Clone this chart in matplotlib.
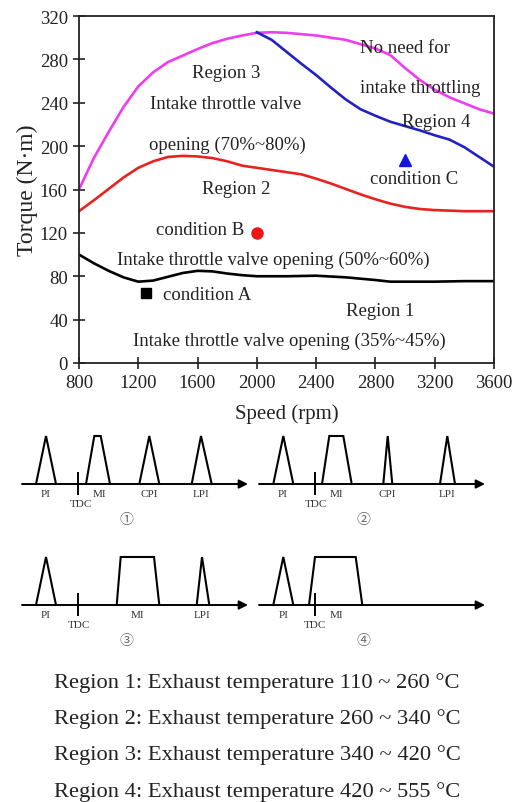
import matplotlib.pyplot as plt

plt.rcParams['font.family'] = ['Liberation Serif', 'DejaVu Serif']

# ---- operating map data ----
speed_mag = [800, 900, 1000, 1100, 1200, 1300, 1400, 1500, 1600, 1700, 1800, 1900, 2000,
             2100, 2200, 2400, 2600, 2800, 2900, 3000, 3100, 3200, 3300, 3400, 3500, 3600]
torque_mag = [160, 189, 213, 236, 255, 268, 277.5, 283.5, 289.5, 295, 299, 302, 304.5,
              305, 304.5, 302, 298, 290, 284, 272, 261, 252, 245, 239.5, 234, 230]

speed_blue = [2000, 2100, 2200, 2300, 2400, 2500, 2600, 2700, 2800, 2900, 3000, 3100,
              3200, 3300, 3400, 3500, 3600]
torque_blue = [305, 298, 287, 276, 265.5, 254, 243, 234, 228, 222.5, 218.5, 214.5,
               210, 206, 199, 190, 181]

speed_red = [800, 900, 1000, 1100, 1200, 1300, 1400, 1500, 1600, 1700, 1800, 1900, 2000,
             2100, 2200, 2300, 2400, 2500, 2600, 2700, 2800, 2900, 3000, 3100, 3200, 3400, 3600]
torque_red = [140, 150, 160.5, 171, 180, 186, 190, 191, 190.5, 189, 186, 182, 180,
              178, 176, 174, 170, 165.5, 160.5, 155.5, 151, 147, 144, 142, 141, 140, 140]

speed_blk = [800, 900, 1000, 1100, 1200, 1300, 1400, 1500, 1600, 1700, 1800, 1900, 2000,
             2200, 2400, 2600, 2800, 2900, 3000, 3200, 3400, 3600]
torque_blk = [100, 92, 85, 79, 75, 76, 79.5, 83, 85, 84.5, 82.5, 81, 80,
              80, 80.5, 79, 76.5, 75, 75, 75, 75.5, 75.5]

cond_names = ['A', 'B', 'C']
cond_speed = [1250, 2000, 3000]
cond_torque = [65, 120, 187]

labels_map = [
    ('Region 3', 1796, 268),
    ('Intake throttle valve', 1792, 239),
    ('opening (70%~80%)', 1799, 202),
    ('No need for', 3000, 291),
    ('intake throttling', 3104, 254),
    ('Region 4', 3207, 223),
    ('condition C', 3060, 170),
    ('Region 2', 1859, 161),
    ('condition B', 1616, 123),
    ('Intake throttle valve opening (50%~60%)', 2110, 96),
    ('condition A', 1666, 63),
    ('Region 1', 2834, 48),
    ('Intake throttle valve opening (35%~45%)', 2218, 21),
]

# ---- injection strategy schematics (x in px along each arrow) ----
# pulse = (base start, top start, top end, base end)
pulses = {
    1: [(14, 24, 24, 34), (64, 72.3, 78.7, 88), (117.3, 127.3, 127.3, 137.3), (169.7, 179, 179, 189.7)],
    2: [(14.3, 24.3, 24.3, 34.3), (63, 70.3, 84.3, 92.7), (124.3, 128.7, 128.7, 133.3), (181, 188.3, 188.3, 196)],
    3: [(14, 24, 24, 34), (94.7, 98.7, 132, 137.3), (174.7, 180, 180, 187.3)],
    4: [(14.3, 24.3, 24.3, 34.3), (50, 56, 96.7, 103.3)],
}
tdc_pos = {1: 55.7, 2: 56.3, 3: 55.7, 4: 56.3}
pulse_names = {
    1: [('PI', 24), ('MI', 77), ('CPI', 127), ('LPI', 179)],
    2: [('PI', 23.7), ('MI', 77.7), ('CPI', 127.7), ('LPI', 188.3)],
    3: [('PI', 24), ('MI', 115.7), ('LPI', 180.3)],
    4: [('PI', 24.3), ('MI', 77.7)],
}
tdc_label = {1: 59, 2: 57, 3: 57, 4: 56}
circled = {1: '①', 2: '②', 3: '③', 4: '④'}

temp_lines = [
    'Region 1: Exhaust temperature 110 ~ 260 °C',
    'Region 2: Exhaust temperature 260 ~ 340 °C',
    'Region 3: Exhaust temperature 340 ~ 420 °C',
    'Region 4: Exhaust temperature 420 ~ 555 °C',
]

W, H = 531, 803
fig = plt.figure(figsize=(W / 100, H / 100), dpi=100)

# main chart
ax = fig.add_axes([79 / W, 1 - 364 / H, (494 - 79) / W, (364 - 17) / H])
lw = 1.9
ax.plot(speed_mag, torque_mag, color='#f03cf0', lw=lw)
ax.plot(speed_blue, torque_blue, color='#2222c0', lw=lw)
ax.plot(speed_red, torque_red, color='#e8221e', lw=lw)
ax.plot(speed_blk, torque_blk, color='black', lw=lw)
ax.plot(cond_speed[0], cond_torque[0], 's', color='black', ms=6.5)
ax.plot(cond_speed[1], cond_torque[1], 'o', color='#f01515', ms=8)
ax.plot(cond_speed[2], cond_torque[2], '^', color='#1515e0', ms=8)

for txt, x, y in labels_map:
    ax.text(x, y, txt, ha='center', va='center', fontsize=13.5, color='#222222')

ax.set_xlim(800, 3600)
ax.set_ylim(0, 320)
ax.set_xticks(range(800, 3601, 400))
ax.set_yticks(range(0, 321, 40))
ax.tick_params(direction='inout', length=9, width=1.2, labelsize=13.5, colors='#222222')
for s in ax.spines.values():
    s.set_linewidth(1.3)
    s.set_color('#222222')
ax.set_xlabel('Speed (rpm)', fontsize=15, color='#222222', labelpad=9)
ax.set_ylabel('Torque (N·m)', fontsize=17, color='#222222', labelpad=1)

# schematic area, data coords = pixels
sx = fig.add_axes([0, 0, 1, 1 - 390 / H])
sx.set_xlim(0, W)
sx.set_ylim(H, 390)
sx.axis('off')

panel_origin = {1: (22, 485), 2: (259, 485), 3: (22, 606), 4: (259, 606)}
arrow_len = 226
ph = 48
for k in range(1, 5):
    x0, y0 = panel_origin[k]
    sx.annotate('', xy=(x0 + arrow_len, y0), xytext=(x0, y0),
                arrowprops=dict(arrowstyle='-|>', lw=1.4, color='black',
                                mutation_scale=13, shrinkA=0, shrinkB=0))
    for a, b, c, d in pulses[k]:
        sx.plot([x0 + a, x0 + b, x0 + c, x0 + d], [y0, y0 - ph, y0 - ph, y0],
                color='black', lw=1.5, solid_joinstyle='miter')
    t = x0 + tdc_pos[k]
    sx.plot([t, t], [y0 - 11, y0 + 10], color='black', lw=1.4)
    for name, px in pulse_names[k]:
        sx.text(x0 + px, y0 + 10, name, ha='center', va='center', fontsize=8,
                color='#333333')
    sx.text(x0 + tdc_label[k], y0 + 20, 'TDC', ha='center', va='center', fontsize=8,
            color='#333333')
    sx.text(x0 + 104.7, y0 + 35, circled[k], ha='center', va='center', fontsize=10,
            family=['Noto Sans CJK SC', 'DejaVu Sans'], color='#666666')

for i, line in enumerate(temp_lines):
    sx.text(257, 683 + i * 36.2, line, ha='center', va='center', fontsize=16.2,
            color='#222222')

fig.savefig('out.png', dpi=100)
